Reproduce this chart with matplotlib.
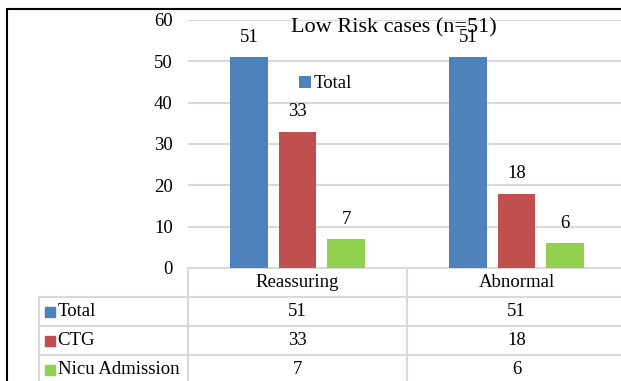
import numpy as np
import matplotlib
matplotlib.use("Agg")
import matplotlib.pyplot as plt
from matplotlib.patches import Rectangle

plt.rcParams['font.family'] = ['Liberation Serif', 'DejaVu Serif']

# data
categories = ['Reassuring', 'Abnormal']
series_names = ['Total', 'CTG', 'Nicu Admission']
total = [51, 51]
ctg = [33, 18]
nicu = [7, 6]
colors = ['#4F81BD', '#C0504D', '#92D050']

fs = 13.5

fig = plt.figure(figsize=(6.21, 3.81), dpi=100)
ax = fig.add_axes([188 / 621, (381 - 268) / 381, 438 / 621, 248 / 381])

x = np.arange(len(categories))
w = 0.173
step = 0.222
for i, (vals, name) in enumerate(zip([total, ctg, nicu], series_names)):
    bars = ax.bar(x + (i - 1) * step, vals, w, color=colors[i], label=name, zorder=3)
    ax.bar_label(bars, padding=8, fontsize=fs)

ax.set_xlim(-0.5, 1.5)
ax.set_ylim(0, 60)
ax.set_yticks(range(0, 61, 10))
ax.tick_params(axis='y', length=0, labelsize=fs, pad=11)
ax.set_xticks([])
ax.grid(axis='y', color='#D9D9D9', lw=1.5, zorder=0)
for s in ax.spines.values():
    s.set_visible(False)

# legend shows only the first series
h, l = ax.get_legend_handles_labels()
ax.legend(h[:1], l[:1], loc='center left', bbox_to_anchor=(0.254, 0.742), frameon=False,
          fontsize=fs, handlelength=0.6, handleheight=0.6, handletextpad=0.15,
          borderaxespad=0, borderpad=0)

# data table
cell_text = [[''] + categories]
for name, vals in zip(series_names, [total, ctg, nicu]):
    cell_text.append([name] + [str(v) for v in vals])
x0 = (39 - 188) / 438
tw = (626 - 39) / 438
th = (384 - 268) / 248
tbl = ax.table(cellText=cell_text, cellLoc='center', colWidths=[149 / 587, 219 / 587, 219 / 587],
               bbox=[x0, -th, tw, th])
tbl.auto_set_font_size(False)
tbl.set_fontsize(fs)
for (r, c), cell in tbl.get_celld().items():
    cell.set_edgecolor('#D9D9D9')
    cell.set_linewidth(1.5)
    if r == 0 and c == 0:
        cell.visible_edges = 'open'
    if c == 0 and r > 0:
        cell._loc = 'left'
        cell.PAD = 0.125
        cell.get_text().set_horizontalalignment('left')

row_h = th / 4
for i in range(3):
    ax.plot([(49.5 - 188) / 438], [-row_h * (i + 1.5)], marker='s', ms=7, color=colors[i],
            transform=ax.transAxes, clip_on=False, zorder=5)

fig.text(394 / 621, 1 - 28 / 381, 'Low Risk cases (n=51)', ha='center', va='center', fontsize=16)

# chart border
fig.patches.append(Rectangle((7 / 621, -0.1), 1.1, 1.1 - 9 / 381, transform=fig.transFigure,
                             fill=False, edgecolor='black', lw=1.5))

fig.savefig('out.png', dpi=100)
